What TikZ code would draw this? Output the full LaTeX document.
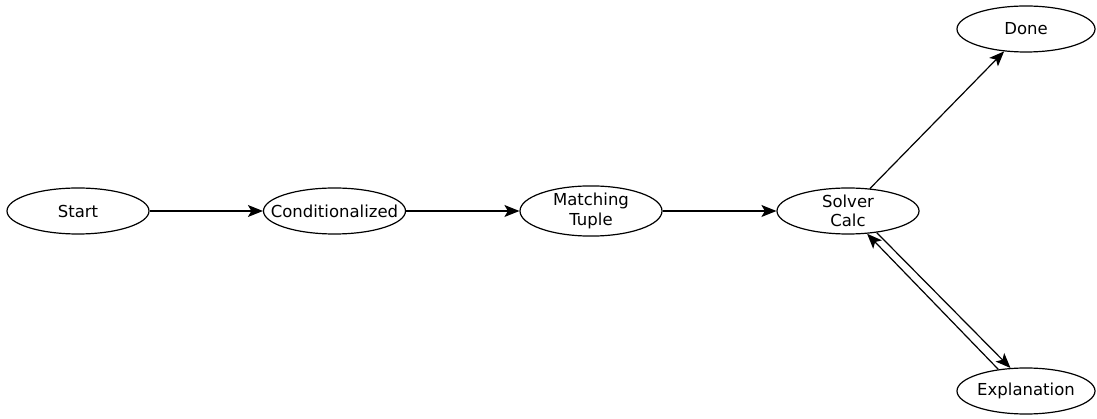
\documentclass[tikz,border=0pt]{standalone}
\usepackage{fontspec}
\setmainfont{DejaVu Sans}
\usetikzlibrary{shapes.geometric,arrows.meta}
\begin{document}
\begin{tikzpicture}[x=1pt,y=-1pt,
  state/.style={ellipse,draw,line width=1.2pt,minimum width=142pt,minimum height=46pt,inner sep=0pt,align=center,font=\fontsize{16.5}{19.5}\selectfont},
  arr/.style={line width=1.2pt,-{Stealth[length=15pt,width=12pt,inset=3.5pt]}}]
\useasboundingbox (0,0) rectangle (1097,419);
\node[state] (start) at (78,211) {Start};
\node[state] (cond) at (334.5,211) {\makebox[0pt]{Conditionalized}};
\node[state] (match) at (591,211) {Matching\\Tuple};
\node[state] (solver) at (848,211) {Solver\\Calc};
\node[state,minimum width=138pt] (done) at (1026,29) {Done};
\node[state,minimum width=138pt] (expl) at (1026,391) {Explanation};
\draw[arr] (start) -- (cond);
\draw[arr] (cond) -- (match);
\draw[arr] (match) -- (solver);
\draw[arr] (solver) -- (done);
\draw[arr] (expl.142) -- (solver.-50);
\draw[arr] (solver.-37) -- (expl.124);
\end{tikzpicture}
\end{document}
